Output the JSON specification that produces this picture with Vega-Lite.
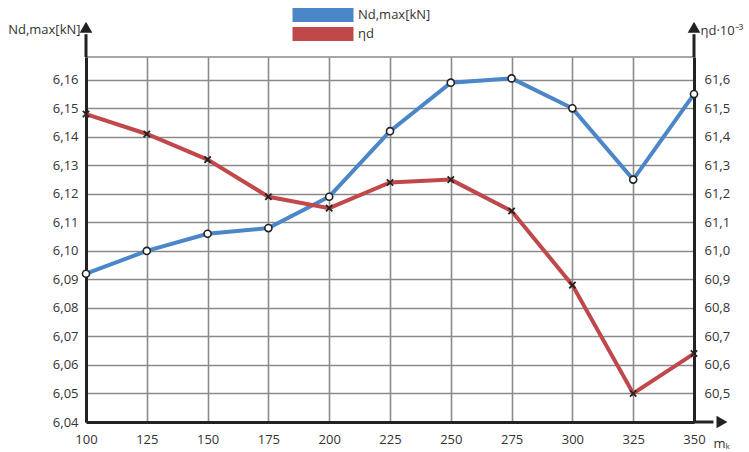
{
  "$schema": "https://vega.github.io/schema/vega-lite/v6.json",
  "width": 608,
  "height": 365,
  "autosize": {"type": "none"},
  "padding": {"left": 86, "top": 57, "right": 55, "bottom": 30},
  "background": "white",
  "config": {
    "font": "Open Sans",
    "view": {"stroke": "#8a8a8a", "strokeWidth": 1.6},
    "axis": {"labelFont": "Open Sans", "titleFont": "Open Sans", "labelColor": "#333", "titleColor": "#333", "labelFontSize": 13, "titleFontSize": 13, "titleFontWeight": "normal", "labelOverlap": false}
  },
  "datasets": {
    "main": [
      {"m": 100, "N": 6.092, "eta": 61.48},
      {"m": 125, "N": 6.100, "eta": 61.41},
      {"m": 150, "N": 6.106, "eta": 61.32},
      {"m": 175, "N": 6.108, "eta": 61.19},
      {"m": 200, "N": 6.119, "eta": 61.15},
      {"m": 225, "N": 6.142, "eta": 61.24},
      {"m": 250, "N": 6.159, "eta": 61.25},
      {"m": 275, "N": 6.1605, "eta": 61.14},
      {"m": 300, "N": 6.150, "eta": 60.88},
      {"m": 325, "N": 6.125, "eta": 60.50},
      {"m": 350, "N": 6.155, "eta": 60.64}
    ],
    "arrows": [
      {"m": 100, "N": 6.1784, "shape": "up"},
      {"m": 350, "N": 6.1784, "shape": "up"},
      {"m": 361.5, "N": 6.04, "shape": "right"}
    ],
    "vrules": [
      {"m": 100, "N": 6.168, "N2": 6.176},
      {"m": 350, "N": 6.168, "N2": 6.176}
    ],
    "hrules": [
      {"m": 350, "m2": 358, "N": 6.04}
    ]
  },
  "encoding": {
    "x": {
      "field": "m", "type": "quantitative",
      "scale": {"domain": [100, 350], "nice": false, "zero": false},
      "axis": {
        "values": [100, 125, 150, 175, 200, 225, 250, 275, 300, 325, 350],
        "grid": true, "gridColor": "#8a8a8a", "gridWidth": 1.6,
        "domainColor": "#222", "domainWidth": 3,
        "ticks": false, "labelPadding": 11, "labelFlush": false,
        "title": "mₖ", "titleAngle": 0, "titleX": 627, "titleY": 21,
        "titleAlign": "left", "titleBaseline": "middle", "titleFontSize": 13
      }
    }
  },
  "layer": [
    {
      "encoding": {
        "y": {
          "field": "N", "type": "quantitative",
          "scale": {"domain": [6.04, 6.168], "nice": false, "zero": false},
          "axis": {
            "orient": "left",
            "values": [6.04, 6.05, 6.06, 6.07, 6.08, 6.09, 6.1, 6.11, 6.12, 6.13, 6.14, 6.15, 6.16],
            "labelExpr": "replace(format(datum.value, '.2f'), '.', ',')",
            "grid": true, "gridColor": "#8a8a8a", "gridWidth": 1.6,
            "domainColor": "#222", "domainWidth": 3,
            "ticks": false, "labelPadding": 8, "labelFlush": false,
            "title": "Nd,max[kN]", "titleAngle": 0, "titleX": -6, "titleY": -28,
            "titleAlign": "right", "titleBaseline": "middle"
          }
        }
      },
      "layer": [
        {
          "data": {"name": "main"},
          "mark": {"type": "line", "strokeWidth": 4},
          "encoding": {
            "color": {
              "datum": "Nd,max[kN]",
              "scale": {"domain": ["Nd,max[kN]"], "range": ["#4a86c8"]},
              "legend": {
                "orient": "none", "legendX": 229, "legendY": -50,
                "title": null,
                "symbolType": "M-30.5,0H30.5", "symbolSize": 4, "symbolStrokeWidth": 14,
                "labelFontSize": 13, "labelColor": "#333", "labelOffset": 27
              }
            }
          }
        },
        {
          "data": {"name": "main"},
          "mark": {"type": "point", "shape": "circle", "filled": true, "fill": "white", "stroke": "#222", "strokeWidth": 1.6, "size": 50, "opacity": 1}
        },
        {
          "data": {"name": "vrules"},
          "mark": {"type": "rule", "strokeWidth": 3, "color": "#222"},
          "encoding": {"y2": {"field": "N2"}}
        },
        {
          "data": {"name": "hrules"},
          "mark": {"type": "rule", "strokeWidth": 3, "color": "#222"},
          "encoding": {"x2": {"field": "m2"}}
        },
        {
          "data": {"name": "arrows"},
          "mark": {"type": "point", "filled": true, "color": "#222", "opacity": 1, "size": 160},
          "encoding": {
            "shape": {"field": "shape", "type": "nominal", "scale": {"domain": ["up", "right"], "range": ["triangle-up", "triangle-right"]}, "legend": null}
          }
        }
      ]
    },
    {
      "encoding": {
        "y": {
          "field": "eta", "type": "quantitative",
          "scale": {"domain": [60.4, 61.68], "nice": false, "zero": false},
          "axis": {
            "orient": "right",
            "values": [60.5, 60.6, 60.7, 60.8, 60.9, 61.0, 61.1, 61.2, 61.3, 61.4, 61.5, 61.6],
            "labelExpr": "replace(format(datum.value, '.1f'), '.', ',')",
            "grid": false,
            "domainColor": "#222", "domainWidth": 3,
            "ticks": false, "labelPadding": 10, "labelFlush": false,
            "title": "ηd·10⁻³", "titleAngle": 0, "titleX": 6, "titleY": -27,
            "titleAlign": "left", "titleBaseline": "middle"
          }
        }
      },
      "layer": [
        {
          "data": {"name": "main"},
          "mark": {"type": "line", "strokeWidth": 4},
          "encoding": {
            "stroke": {
              "datum": "ηd",
              "scale": {"domain": ["ηd"], "range": ["#c0484a"]},
              "legend": {
                "orient": "none", "legendX": 229, "legendY": -31,
                "title": null,
                "symbolType": "M-30.5,0H30.5", "symbolSize": 4, "symbolStrokeWidth": 14,
                "labelFontSize": 13, "labelColor": "#333", "labelOffset": 27
              }
            }
          }
        },
        {
          "data": {"name": "main"},
          "mark": {"type": "point", "shape": "M-1,-1L1,1M1,-1L-1,1", "filled": false, "stroke": "#222", "strokeWidth": 1.8, "size": 40, "opacity": 1}
        }
      ]
    }
  ],
  "resolve": {"scale": {"y": "independent"}}
}
